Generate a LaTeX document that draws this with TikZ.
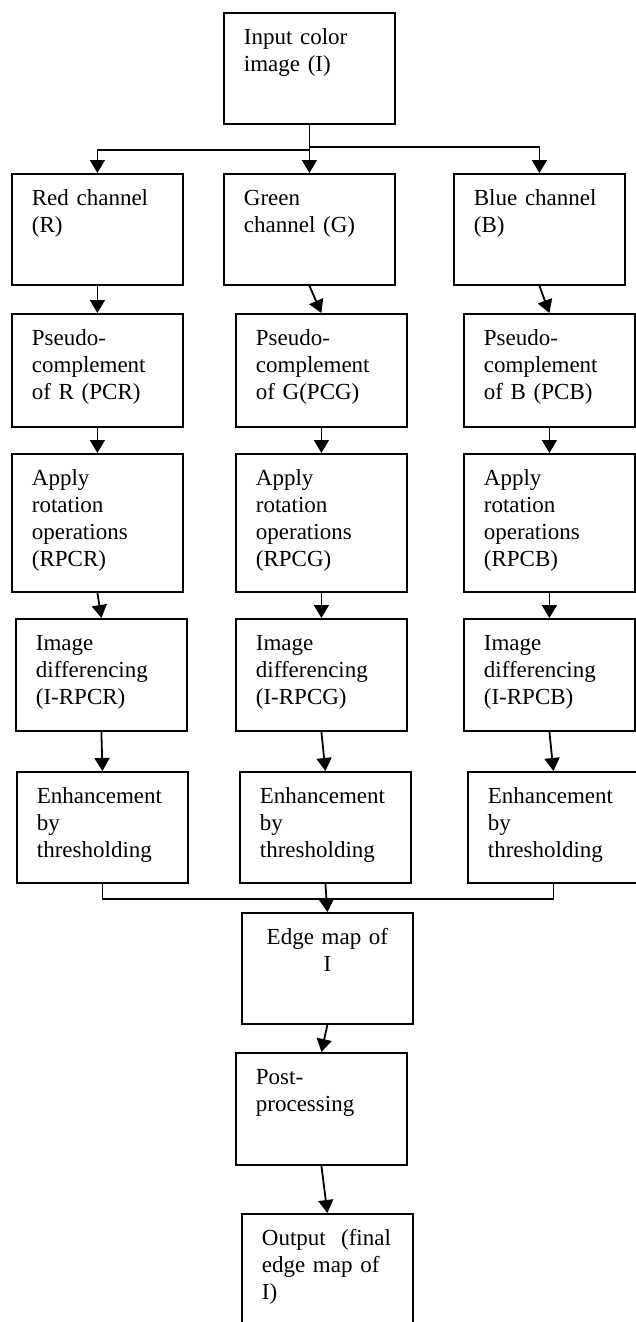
\documentclass[tikz,border=0pt]{standalone}
\usepackage{fontspec}
\setmainfont{Liberation Serif}
\usetikzlibrary{arrows.meta}
\begin{document}
\begin{tikzpicture}[x=1pt,y=-1pt,
	blk/.style={draw,line width=1.8pt,anchor=north west,align=left,text width=131pt,inner xsep=20pt,inner ysep=0pt,text height=32pt,text depth=#1,font=\fontsize{23}{27}\selectfont},
	blk/.default=79pt,
	arr/.style={line width=1.8pt,-{Triangle[length=13pt,width=15pt]}}]
		\useasboundingbox (0,0) rectangle (635,1322);
		\node[blk] (in) at (223,12) {Input color\\image (I)};
		\node[blk] (r1) at (11,173) {Red channel\\(R)};
		\node[blk] (g1) at (223,173) {Green\\channel (G)};
		\node[blk] (b1) at (453,173) {Blue channel\\(B)};
		\node[blk=81pt] (r2) at (11,313) {Pseudo-\\complement\\of R (PCR)};
		\node[blk=81pt] (g2) at (235,313) {Pseudo-\\complement\\of G(PCG)};
		\node[blk=81pt] (b2) at (463,313) {Pseudo-\\complement\\of B (PCB)};
		\node[blk=106pt] (r3) at (11,453) {Apply\\rotation\\operations\\(RPCR)};
		\node[blk=106pt] (g3) at (235,453) {Apply\\rotation\\operations\\(RPCG)};
		\node[blk=106pt] (b3) at (463,453) {Apply\\rotation\\operations\\(RPCB)};
		\node[blk=80pt] (r4) at (15,618) {Image\\differencing\\(I-RPCR)};
		\node[blk=80pt] (g4) at (235,618) {Image\\differencing\\(I-RPCG)};
		\node[blk=80pt] (b4) at (463,618) {Image\\differencing\\(I-RPCB)};
		\node[blk] (r5) at (16,771) {Enhancement\\by\\thresholding};
		\node[blk] (g5) at (239,771) {Enhancement\\by\\thresholding};
		\node[blk] (b5) at (467,771) {Enhancement\\by\\thresholding};
		\node[blk,align=center] (edge) at (241,912) {Edge map of\\I};
		\node[blk=80pt] (post) at (235,1052) {Post-\\processing};
		\node[blk=83pt] (out) at (241,1213) {Output~ (final\\edge map of\\I)};
		\draw[arr] (in.south) -- (g1.north);
		\draw[arr] (in.south) -- ++(0,25) -| (r1.north);
		\draw[arr] (in.south) -- ++(0,22) -| (b1.north);
		\draw[arr] (r1.south) -- (r2.north);
		\draw[arr] (g1.south) -- (g2.north);
		\draw[arr] (b1.south) -- (b2.north);
		\draw[arr] (r2.south) -- (r3.north);
		\draw[arr] (g2.south) -- (g3.north);
		\draw[arr] (b2.south) -- (b3.north);
		\draw[arr] (r3.south) -- (r4.north);
		\draw[arr] (g3.south) -- (g4.north);
		\draw[arr] (b3.south) -- (b4.north);
		\draw[arr] (r4.south) -- (r5.north);
		\draw[arr] (g4.south) -- (g5.north);
		\draw[arr] (b4.south) -- (b5.north);
		\draw[line width=1.8pt] (r5.south) -- ++(0,15) -| (b5.south);
		\draw[arr] (g5.south) -- (edge.north);
		\draw[arr] (edge.south) -- (post.north);
		\draw[arr] (post.south) -- (out.north);
\end{tikzpicture}
\end{document}
